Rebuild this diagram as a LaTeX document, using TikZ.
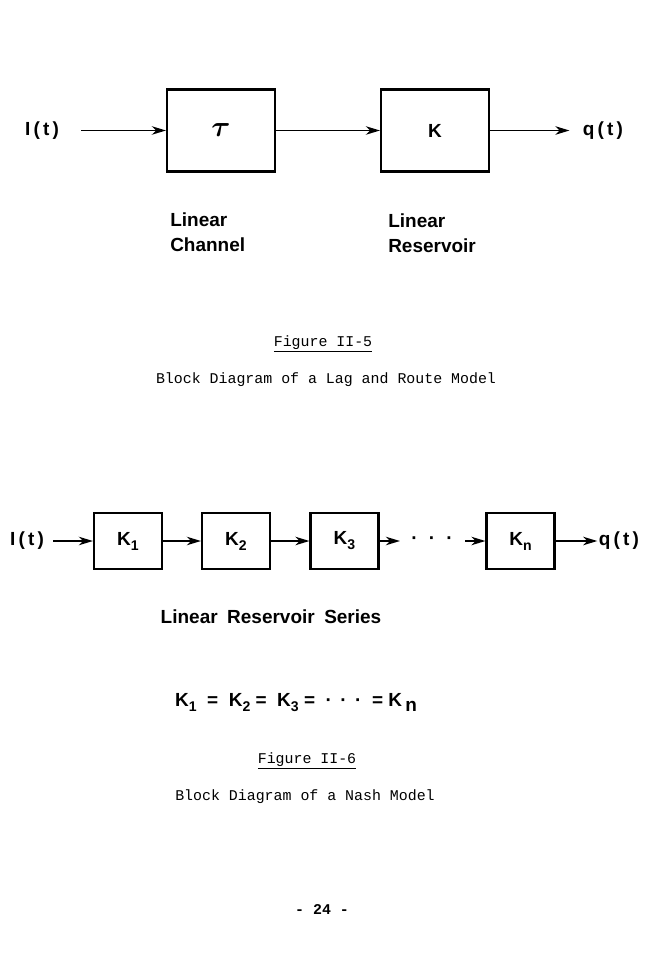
\documentclass[tikz,border=0pt]{standalone}
\usepackage{fontspec}
\setmainfont{Liberation Sans}
\setmonofont{Liberation Mono}
\usepackage{bm}
\usetikzlibrary{arrows.meta,positioning}
\newcommand\lowidx[1]{\raisebox{-0.5ex}{\fontsize{10}{12}\selectfont#1}}

\begin{document}
\begin{tikzpicture}[x=0.025cm,y=-0.025cm,>={Stealth[length=10pt,width=6pt,inset=3pt]},
  font=\fontsize{13.5}{18}\selectfont\bfseries,
  blk/.style={draw,line width=1.5pt,inner sep=0pt},
  bigbox/.style={blk,minimum width=2.7cm,minimum height=2.05cm},
  smallbox/.style={blk,minimum width=1.7cm,minimum height=1.42cm},
  lbl/.style={inner sep=0pt},
  captxt/.style={inner sep=0pt,font=\fontsize{10.6}{13}\selectfont\ttfamily},
  flow/.style={->,line width=1.4pt}]
  \useasboundingbox (0,0) rectangle (644,971);
  \node[lbl] (in1) at (42,130.5) {I\,(\,t\,)};
  \node[bigbox] (chan) at (221,130.5) {\huge$\bm{\tau}$};
  \node[bigbox] (res) at (435,130.5) {K};
  \node[lbl] (out1) at (603,130.5) {q\,(\,t\,)};
  \draw[flow,shorten <=0.55cm] (in1) -- (chan);
  \draw[flow] (chan) -- (res);
  \draw[flow,shorten >=0.33cm] (res) -- (out1);
  \node[lbl,align=left,anchor=north west] (chanlbl) at (170,212) {Linear\\Channel};
  \node[lbl,align=left,anchor=north west] (reslbl) at (388,213) {Linear\\Reservoir};
  \node[captxt] (fig5) at (323,344) {\underline{Figure II-5}};
  \node[captxt] (cap5) at (326,380) {Block Diagram of a Lag and Route Model};

  \node[lbl] (in2) at (27,541) {I\,(\,t\,)};
  \node[smallbox] (k1) at (128,541) {K\lowidx{1}};
  \node[smallbox] (k2) at (236,541) {K\lowidx{2}};
  \node[smallbox] (k3) at (344.5,541) {K\lowidx{3}};
  \node[lbl] (dots) at (432,541) {·\hspace{8pt}·\hspace{8pt}·};
  \node[smallbox] (kn) at (520.5,541) {K\lowidx{n}};
  \node[lbl] (out2) at (619,541) {q\,(\,t\,)};
  \draw[flow,shorten <=0.225cm] (in2) -- (k1);
  \foreach \a/\b in {k1/k2,k2/k3}
    \draw[flow] (\a) -- (\b);
  \draw[flow,shorten >=0.275cm] (k3) -- (dots);
  \draw[flow,shorten <=0.3cm] (dots) -- (kn);
  \draw[flow,shorten >=1pt] (kn) -- (out2);
  \node[lbl] (serieslbl) at (271,617) {Linear\enspace Reservoir\enspace Series};
  \node[lbl] (equal) at (296,703)
    {K\lowidx{1} ~=~ K\lowidx{2} = ~K\lowidx{3} = ~·\hspace{6pt}·\hspace{6pt}·~ = K\,\raisebox{-0.5ex}{n}};
  \node[captxt] (fig6) at (307,761) {\underline{Figure II-6}};
  \node[captxt] (cap6) at (305,797) {Block Diagram of a Nash Model};
  \node[captxt,font=\fontsize{10.6}{13}\selectfont\ttfamily\bfseries] (page) at (322,910) {- 24 -};
\end{tikzpicture}
\end{document}
